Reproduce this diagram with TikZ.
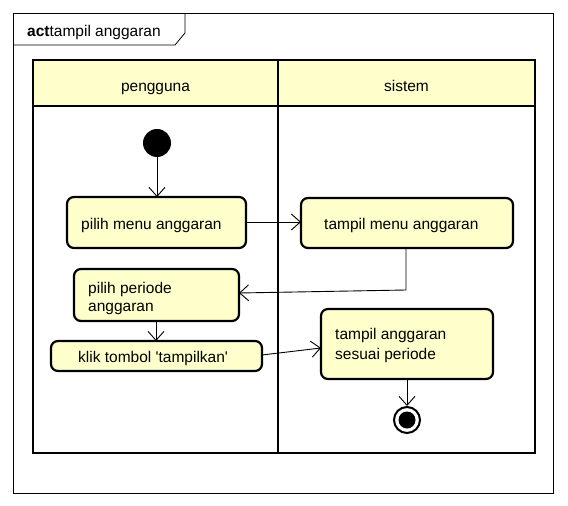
\documentclass[tikz,border=0pt]{standalone}
\usepackage{fontspec}
\setmainfont{Liberation Sans}
\usetikzlibrary{arrows.meta}
\definecolor{uyel}{HTML}{FFFFCC}
\tikzset{
  act/.style={draw=black, line width=2.2pt, rounded corners=7pt, fill=uyel},
  lbl/.style={anchor=base west, font=\fontsize{15.5}{18}\selectfont, inner sep=0pt},
  hdr/.style={anchor=base, font=\fontsize{15.5}{18}\selectfont, inner sep=0pt},
  flow/.style={draw=black, line width=0.9pt, -{Straight Barb[length=9pt,width=16pt,line width=0.9pt]}},
  lane/.style={draw=black, line width=2pt},
}
\begin{document}
\begin{tikzpicture}[x=1pt,y=-1pt]
\useasboundingbox (0,0) rectangle (568,506);
\fill[white] (0,0) rectangle (568,506);
% outer frame
\draw[line width=0.8pt] (13,13) rectangle (553,493);
\draw[line width=0.8pt] (13,45) -- (175,45) -- (185,33) -- (185,13);
\node[lbl] (title) at (27,36) {\textbf{act}tampil anggaran};
% pool
\fill[uyel] (33,60) rectangle (535,106);
\draw[lane] (33,60) rectangle (535,453);
\draw[lane] (33,106) -- (535,106);
\draw[lane] (278,60) -- (278,453);
\node[hdr] (h1) at (155.5,91) {pengguna};
\node[hdr] (h2) at (406.5,91) {sistem};
% initial
\node[circle, fill=black, minimum size=28pt, inner sep=0pt] (init) at (157,143) {};
% actions
\draw[act] (67,197) rectangle (246,248);
\node[lbl] (a1t) at (81,229) {pilih menu anggaran};
\draw[act] (301,198) rectangle (513,248);
\node[lbl] (a2t) at (324,229) {tampil menu anggaran};
\draw[act] (74,269) rectangle (239,321);
\node[lbl] (a3t) at (88,293) {pilih periode};
\node[lbl] (a3u) at (88,311) {anggaran};
\draw[act] (51,341) rectangle (262,371);
\node[lbl] (a4t) at (78,362) {klik tombol \textquotesingle tampilkan\textquotesingle};
\draw[act] (321,309) rectangle (493,379);
\node[lbl] (a5t) at (335,339) {tampil anggaran};
\node[lbl] (a5u) at (335,359) {sesuai periode};
% final
\node[circle, draw=black, line width=2pt, fill=white, minimum size=26pt, inner sep=0pt] (fin) at (407,420) {};
\node[circle, fill=black, minimum size=17pt, inner sep=0pt] (finin) at (fin) {};
% connector anchor coordinates
\coordinate (a1b) at (157,197);
\coordinate (a1r) at (246,222);
\coordinate (a2l) at (301,222);
\coordinate (a2b) at (406,248);
\coordinate (bend) at (406,290);
\coordinate (a3r) at (239,293);
\coordinate (a3b) at (156,321);
\coordinate (a4top) at (156,341);
\coordinate (a4r) at (262,355);
\coordinate (a5l) at (321,348);
\coordinate (a5b) at (407,379);
% flows
\draw[flow] (init) -- (a1b);
\draw[flow] (a1r) -- (a2l);
\draw[flow] (a2b) -- (bend) -- (a3r);
\draw[flow] (a3b) -- (a4top);
\draw[flow] (a4r) -- (a5l);
\draw[flow] (a5b) -- (fin);
\end{tikzpicture}
\end{document}
